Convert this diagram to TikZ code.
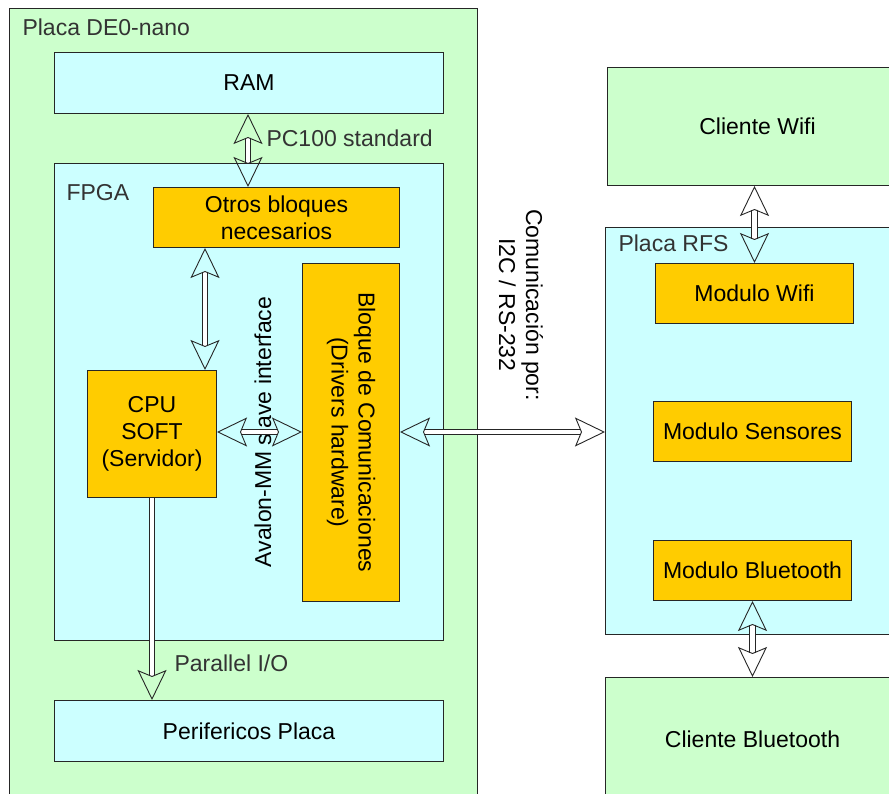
\documentclass[tikz,border=0pt]{standalone}
\usepackage{fontspec}
\setmainfont{Liberation Sans}
\usetikzlibrary{arrows.meta}

\definecolor{verdeclaro}{HTML}{CCFFCC}
\definecolor{cianclaro}{HTML}{CCFFFF}
\definecolor{naranja}{HTML}{FFCC00}

\tikzset{
    caja/.style={draw=black!85, line width=1pt, anchor=north west, inner sep=0pt, align=center},
    placa/.style={caja, fill=verdeclaro},
    bloque/.style={caja, fill=cianclaro},
    modulo/.style={caja, fill=naranja},
    rotulo/.style={anchor=west, text=black!80},
    flecha/.style={double, double distance=4.5pt, line width=0.9pt, draw=black!85,
        >={Stealth[open, length=30pt, width=29pt, inset=6pt]}}
}

\begin{document}
\begin{tikzpicture}[x=1pt, y=-1pt, font=\fontsize{23}{27}\selectfont]

    \useasboundingbox (0,0) rectangle (889,794);
    \clip (0,0) rectangle (889,794);
    \fill[white] (0,0) rectangle (889,794);

    % Placa DE0-nano
    \node[placa, minimum width=468pt, minimum height=800pt] (de0) at (9,8) {};
    \node[rotulo] (tde0) at (19,27) {Placa DE0-nano};

    \node[bloque, minimum width=389pt, minimum height=61pt] (ram) at (54,52) {RAM};

    % FPGA y sus bloques
    \node[bloque, minimum width=389pt, minimum height=477pt] (fpga) at (54,163) {};
    \node[rotulo] (tfpga) at (63,193) {FPGA};
    \node[modulo, minimum width=246pt, minimum height=60pt] (otros) at (153,187) {Otros bloques\\necesarios};
    \node[modulo, minimum width=129pt, minimum height=127pt] (cpu) at (87,370) {CPU\\SOFT\\(Servidor)};
    \node[modulo, minimum width=97pt, minimum height=338pt] (com) at (302,263) {};
    \node[rotate=-90, align=center] (tcom) at (com.center) {Bloque de Comunicaciones\\(Drivers hardware)};
    \node[rotate=90] (avalon) at (263,432) {Avalon-MM slave interface};

    \node[bloque, minimum width=389pt, minimum height=61pt] (perif) at (54,700) {Perifericos Placa};

    % Placa RFS y clientes
    \node[placa, minimum width=300pt, minimum height=118pt] (cwifi) at (607,67) {Cliente Wifi};
    \node[bloque, minimum width=300pt, minimum height=407pt] (rfs) at (605,227) {};
    \node[rotulo] (trfs) at (615,243) {Placa RFS};
    \node[modulo, minimum width=198pt, minimum height=60pt] (mwifi) at (655,263) {Modulo Wifi};
    \node[modulo, minimum width=198pt, minimum height=60pt] (msens) at (653,401) {Modulo Sensores};
    \node[modulo, minimum width=198pt, minimum height=60pt] (mbt) at (653,540) {Modulo Bluetooth};
    \node[placa, minimum width=294pt, minimum height=124pt] (cbt) at (605,677) {Cliente Bluetooth};

    \node[rotate=-90, align=center] (tserie) at (521,305) {Comunicación por:\\I2C / RS-232};

    % Conexiones
    \draw[flecha, <->] (ram.south -| 248,0) -- (otros.north -| 248,0);
    \node[rotulo] (tpc) at (263,138) {PC100 standard};
    \draw[flecha, <->] (otros.south -| 205,0) -- (cpu.north -| 205,0);
    \draw[flecha, <->] (cpu.east |- 0,432) -- (com.west |- 0,432);
    \draw[flecha, <->] (com.east |- 0,432) -- (rfs.west |- 0,432);
    \draw[flecha, ->] (cpu.south) -- (cpu.south |- perif.north);
    \node[rotulo] (tpar) at (171,663) {Parallel I/O};
    \draw[flecha, <->] (cwifi.south -| mwifi.north) -- (mwifi.north);
    \draw[flecha, <->] (mbt.south) -- (mbt.south |- cbt.north);

\end{tikzpicture}
\end{document}
